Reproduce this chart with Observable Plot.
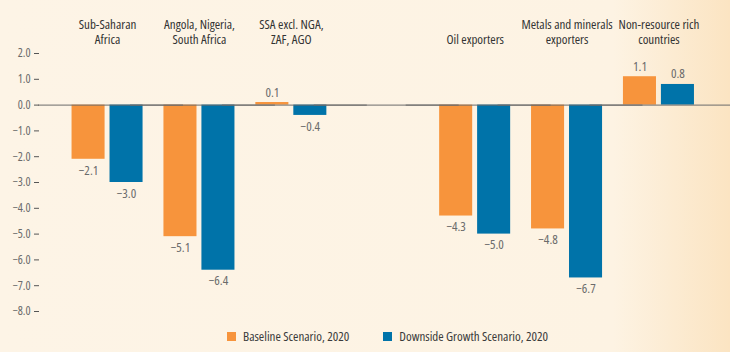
<!DOCTYPE html>
<html>
<head>
<meta charset="utf-8">
<script src="https://cdn.jsdelivr.net/npm/d3@7"></script>
<script src="https://cdn.jsdelivr.net/npm/@observablehq/plot@0.6"></script>
<style>
  html, body { margin: 0; padding: 0; }
  body {
    width: 730px; height: 352px; overflow: hidden; position: relative;
    background: linear-gradient(to right, #fdf4e6 0%, #fdf3e3 84%, #fbe4c2 100%);
    font-family: "Open Sans", sans-serif;
    font-stretch: 75%;
  }
  #chart svg { background: transparent; display: block; font-stretch: 75%; }
  #chart svg text { font-stretch: 75%; }
  #legend {
    position: absolute; top: 327px; left: 227px;
    display: flex; align-items: center; gap: 34px;
    font-size: 13px; color: #3a3a3a; font-stretch: 75%;
  }
  #legend .item { display: flex; align-items: center; gap: 7px; }
  #legend .sw { width: 9px; height: 9px; display: inline-block; }
</style>
</head>
<body>
<div id="chart"></div>
<div id="legend"></div>
<script>
const groups = ["Sub-Saharan\nAfrica", "Angola, Nigeria,\nSouth Africa", "SSA excl. NGA,\nZAF, AGO", "Oil exporters", "Metals and minerals\nexporters", "Non-resource rich\ncountries"];
const spacer = " ";
const groupOrder = [groups[0], groups[1], groups[2], spacer, groups[3], groups[4], groups[5]];
const series = ["Baseline Scenario, 2020", "Downside Growth Scenario, 2020"];
const baseline = [-2.1, -5.1, 0.1, -4.3, -4.8, 1.1];
const downside = [-3.0, -6.4, -0.4, -5.0, -6.7, 0.8];
const colors = ["#f7943c", "#0073a9"];
const yTicks = [2, 1, 0, -1, -2, -3, -4, -5, -6, -7, -8];

const data = [];
groups.forEach((g, i) => {
  data.push({group: g, series: series[0], value: baseline[i]});
  data.push({group: g, series: series[1], value: downside[i]});
});

const fmt = v => d3.format(".1f")(v);
const font = "'Open Sans', sans-serif";

const chart = Plot.plot({
  width: 730,
  height: 322,
  marginLeft: 39,
  marginRight: 3.5,
  marginTop: 53,
  marginBottom: 11,
  style: {fontFamily: font, background: "transparent", overflow: "visible"},
  fx: {domain: groupOrder, paddingInner: 0, paddingOuter: 0.2405, round: false, axis: null},
  x: {domain: series, paddingInner: 0.13, paddingOuter: 0.275, round: false, axis: null},
  y: {domain: [-8, 2], axis: null},
  color: {domain: series, range: colors},
  marks: [
    Plot.barY(data, {fx: "group", x: "series", y: "value", fill: "series"}),
    // invisible placeholder so the spacer slot is not treated as an empty facet
    Plot.text([spacer], {fx: d => d, text: () => "", frameAnchor: "middle"}),
    Plot.ruleY([0], {stroke: "#6b6b6b", strokeWidth: 1, insetLeft: -23, insetRight: -30}),
    Plot.axisY({
      ticks: yTicks, tickFormat: fmt, dx: -22.1, line: true, tickSize: 5, tickPadding: 4,
      stroke: "#555", color: "#6b6b6b", fontSize: 12, label: null
    }),
    Plot.text(data.filter(d => d.value < 0), {
      fx: "group", x: "series", y: "value", text: d => fmt(d.value),
      lineAnchor: "top", dy: 6, fill: "#6b6b6b", fontSize: 13
    }),
    Plot.text(data.filter(d => d.value >= 0), {
      fx: "group", x: "series", y: "value", text: d => fmt(d.value),
      lineAnchor: "bottom", dy: -6, fill: "#6b6b6b", fontSize: 13
    }),
    Plot.text(groups, {
      fx: d => d, text: d => d, frameAnchor: "top", lineAnchor: "bottom",
      dy: -10, fill: "#333", fontSize: 13, lineHeight: 1.15
    })
  ]
});
document.getElementById("chart").appendChild(chart);

const legend = document.getElementById("legend");
series.forEach((s, i) => {
  const item = document.createElement("div");
  item.className = "item";
  const sw = document.createElement("span");
  sw.className = "sw";
  sw.style.background = colors[i];
  const t = document.createElement("span");
  t.textContent = s;
  item.appendChild(sw);
  item.appendChild(t);
  legend.appendChild(item);
});
</script>
</body>
</html>
